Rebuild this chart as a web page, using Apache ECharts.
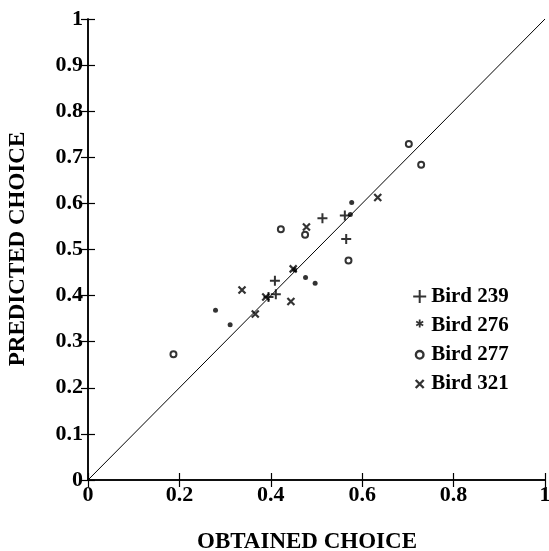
<!DOCTYPE html>
<html><head><meta charset="utf-8">
<script src="https://cdn.jsdelivr.net/npm/echarts@6/dist/echarts.min.js"></script>
<style>html,body{margin:0;padding:0;background:#fff}#c{width:549px;height:551px}</style>
</head><body><div id="c"></div>
<script>
const xTicks = [0, 0.2, 0.4, 0.6, 0.8, 1];
const yTicks = [0, 0.1, 0.2, 0.3, 0.4, 0.5, 0.6, 0.7, 0.8, 0.9, 1];
const seriesNames = ['Bird 239', 'Bird 276', 'Bird 277', 'Bird 321'];
const bird239 = [[0.513,0.568],[0.562,0.574],[0.565,0.523],[0.409,0.432],[0.411,0.403],[0.395,0.397]];
const bird276 = [[0.577,0.602],[0.574,0.576],[0.476,0.439],[0.497,0.427],[0.279,0.368],[0.311,0.337],[0.452,0.456]];
const bird277 = [[0.702,0.729],[0.729,0.684],[0.422,0.544],[0.475,0.532],[0.570,0.476],[0.187,0.273]];
const bird321 = [[0.634,0.613],[0.478,0.549],[0.449,0.458],[0.444,0.387],[0.337,0.412],[0.366,0.360],[0.389,0.397]];
const diagonal = [[0,0],[1,1]];
const xTitle = 'OBTAINED CHOICE';
const yTitle = 'PREDICTED CHOICE';

const FONT = '"Liberation Serif", "DejaVu Serif", serif';
const chart = echarts.init(document.getElementById('c'));
const plusPath = 'path://M0,5L10,5M5,0L5,10';
const xPath = 'path://M0,0L10,10M10,0L0,10';
const axisCommon = {
  type: 'value', min: 0, max: 1,
  splitLine: {show: false},
  axisLine: {show: true, lineStyle: {color: '#000', width: 1.5}},
  axisTick: {show: true, inside: true, length: 7, lineStyle: {color: '#000', width: 1.2}},
};
const fmt = ticks => v => { const t = ticks.find(a => Math.abs(a - v) < 1e-9); return t === undefined ? '' : String(t); };
chart.setOption({
  animation: false,
  grid: {left: 88, top: 19, width: 457, height: 461, outerBoundsMode: 'none', containLabel: false},
  xAxis: [
    Object.assign({}, axisCommon, {position: 'bottom', interval: 0.2,
      axisLabel: {color: '#000', fontFamily: FONT, fontWeight: 'bold', fontSize: 22, margin: 4, formatter: fmt(xTicks)}}),
    Object.assign({}, axisCommon, {position: 'top', interval: 0.2, axisLabel: {show: false}})
  ],
  yAxis: [
    Object.assign({}, axisCommon, {position: 'left', interval: 0.1,
      axisLabel: {color: '#000', fontFamily: FONT, fontWeight: 'bold', fontSize: 22, margin: 5, formatter: fmt(yTicks)}}),
    Object.assign({}, axisCommon, {position: 'right', interval: 0.1, axisLabel: {show: false}})
  ],
  legend: {
    orient: 'vertical', left: 407, top: 281, itemGap: 8, itemWidth: 13, itemHeight: 13,
    textStyle: {color: '#000', fontFamily: FONT, fontWeight: 'bold', fontSize: 21, lineHeight: 21},
    data: [
      {name: seriesNames[0], icon: 'path://M0,6.5L13,6.5M6.5,0L6.5,13', itemStyle: {borderColor: '#000', borderWidth: 2}},
      {name: seriesNames[1], icon: 'path://M0,0M13,13M6.5,0.5L6.5,8.5M3,2.5L10,6.5M10,2.5L3,6.5', itemStyle: {borderColor: '#000', borderWidth: 1.8}},
      {name: seriesNames[2], icon: 'path://M0,0M13,13M6.5,3A3.8,3.8,0,1,1,6.49,3Z', itemStyle: {color: '#fff', borderColor: '#000', borderWidth: 2.4}},
      {name: seriesNames[3], icon: 'path://M0,0M13,13M2.5,3L10.5,11M10.5,3L2.5,11', itemStyle: {borderColor: '#000', borderWidth: 2.4}}
    ]
  },
  graphic: [
    {type: 'text', x: 307, y: 542, style: {text: xTitle, font: 'bold 23px ' + FONT, fill: '#000', align: 'center', verticalAlign: 'middle'}},
    {type: 'text', x: 18, y: 249, rotation: Math.PI / 2,
      style: {text: yTitle, font: 'bold 23px ' + FONT, fill: '#000', align: 'center', verticalAlign: 'middle'}}
  ],
  series: [
    {type: 'line', data: diagonal, symbol: 'none', lineStyle: {color: '#000', width: 1}, silent: true},
    {name: seriesNames[0], type: 'scatter', data: bird239, symbol: plusPath, symbolSize: 10,
      itemStyle: {color: '#000', borderColor: '#000', borderWidth: 2}},
    {name: seriesNames[1], type: 'scatter', data: bird276, symbol: 'circle', symbolSize: 5,
      itemStyle: {color: '#000'}},
    {name: seriesNames[2], type: 'scatter', data: bird277, symbol: 'emptyCircle', symbolSize: 6,
      itemStyle: {color: '#000', borderColor: '#000', borderWidth: 2.2}},
    {name: seriesNames[3], type: 'scatter', data: bird321, symbol: xPath, symbolSize: 7,
      itemStyle: {color: '#000', borderColor: '#000', borderWidth: 2.2}}
  ]
});
</script></body></html>
